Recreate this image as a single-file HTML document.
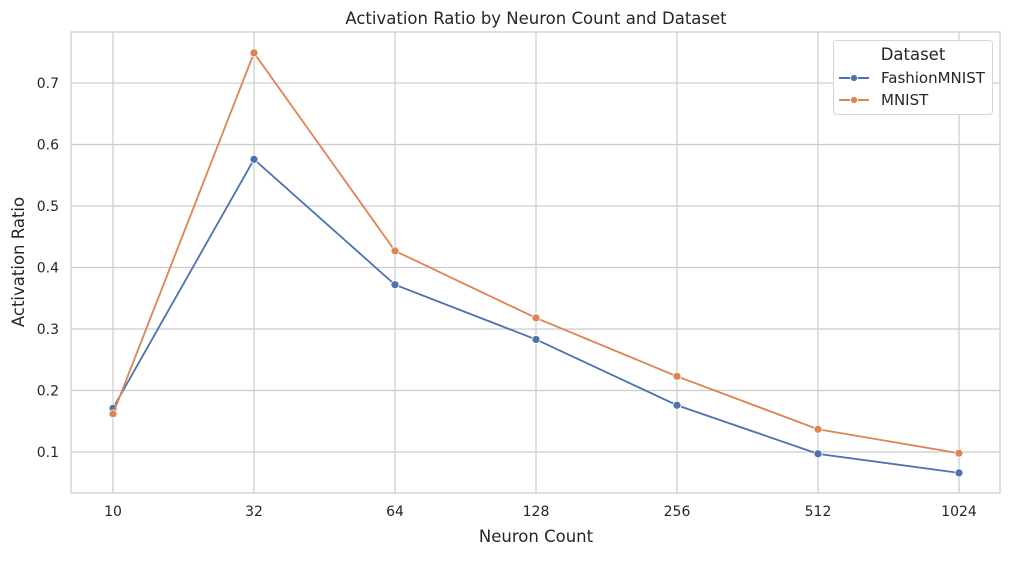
<!DOCTYPE html>
<html><head><meta charset="utf-8"><style>
body{margin:0;background:#fff;font-family:"Liberation Sans","DejaVu Sans",sans-serif;}
svg text{font-family:"DejaVu Sans","Liberation Sans",sans-serif;fill:#262626;}
</style></head><body>
<svg id="chart" width="1011" height="556" viewBox="0 0 1011 556">
<text x="536" y="24" text-anchor="middle" font-size="16.5">Activation Ratio by Neuron Count and Dataset</text>
<g id="grid"></g>
<rect x="71" y="32" width="929" height="461" fill="none" stroke="#cccccc" stroke-width="1.2"/>
<g id="ticks"></g>
<g id="series"></g>
<text x="536" y="542" text-anchor="middle" font-size="16.5">Neuron Count</text>
<text transform="translate(24,262) rotate(-90)" text-anchor="middle" font-size="16.5">Activation Ratio</text>
<g>
<rect x="833.5" y="40.5" width="159" height="74" rx="3" fill="#fff" stroke="#d6d6d6"/>
<text x="913" y="60" text-anchor="middle" font-size="16.5">Dataset</text>
<g>
<line x1="839" y1="78" x2="869" y2="78" stroke="#4c72b0" stroke-width="2"/><circle cx="854" cy="78" r="3.5" fill="#4c72b0" stroke="#fff" stroke-width="0.8"/>
<text x="881" y="83" font-size="15">FashionMNIST</text></g>
<g>
<line x1="839" y1="100" x2="869" y2="100" stroke="#dd8452" stroke-width="2"/><circle cx="854" cy="100" r="3.5" fill="#dd8452" stroke="#fff" stroke-width="0.8"/>
<text x="881" y="105" font-size="15">MNIST</text></g>
</g>
</svg>
<script>
const categories=["10","32","64","128","256","512","1024"];
const fashionValues=[0.171,0.576,0.372,0.283,0.176,0.097,0.066];
const mnistValues=[0.162,0.749,0.427,0.318,0.223,0.137,0.098];
const yTickLabels=["0.1","0.2","0.3","0.4","0.5","0.6","0.7"];
const NS="http://www.w3.org/2000/svg";
const xPos=i=>113+i*141;
const yMin=0.0333,yMax=0.783;
const yPos=v=>493-(v-yMin)/(yMax-yMin)*461;
function mk(tag,attrs,parent){const e=document.createElementNS(NS,tag);for(const k in attrs)e.setAttribute(k,attrs[k]);parent.appendChild(e);return e;}
const grid=document.getElementById('grid'),ticks=document.getElementById('ticks'),series=document.getElementById('series');
categories.forEach((c,i)=>{
 const l=mk('line',{x1:xPos(i),x2:xPos(i),y1:32,y2:493,stroke:'#cccccc','stroke-width':1.2},grid);
 
 
 const t=mk('text',{x:xPos(i),y:516,'text-anchor':'middle','font-size':14},ticks);t.textContent=c;
 
 
});
yTickLabels.forEach(s=>{
 const v=parseFloat(s),y=yPos(v);
 const l=mk('line',{x1:71,x2:1000,y1:y,y2:y,stroke:'#cccccc','stroke-width':1.2},grid);
 
 
 const t=mk('text',{x:59,y:y+5,'text-anchor':'end','font-size':14},ticks);t.textContent=s;
 
 
});
function draw(vals,color,name){
 const g=mk('g',{},series);
 
 
 const p=mk('polyline',{points:vals.map((v,i)=>xPos(i)+','+yPos(v)).join(' '),fill:'none',stroke:color,'stroke-width':1.8},g);
 
 
 vals.forEach((v,i)=>{
  const c=mk('circle',{cx:xPos(i),cy:yPos(v),r:4,fill:color,stroke:'#fff','stroke-width':0.8},g);
  
  
 });
}
draw(fashionValues,'#4c72b0','fashionmnist');
draw(mnistValues,'#dd8452','mnist');
</script>
</body></html>
